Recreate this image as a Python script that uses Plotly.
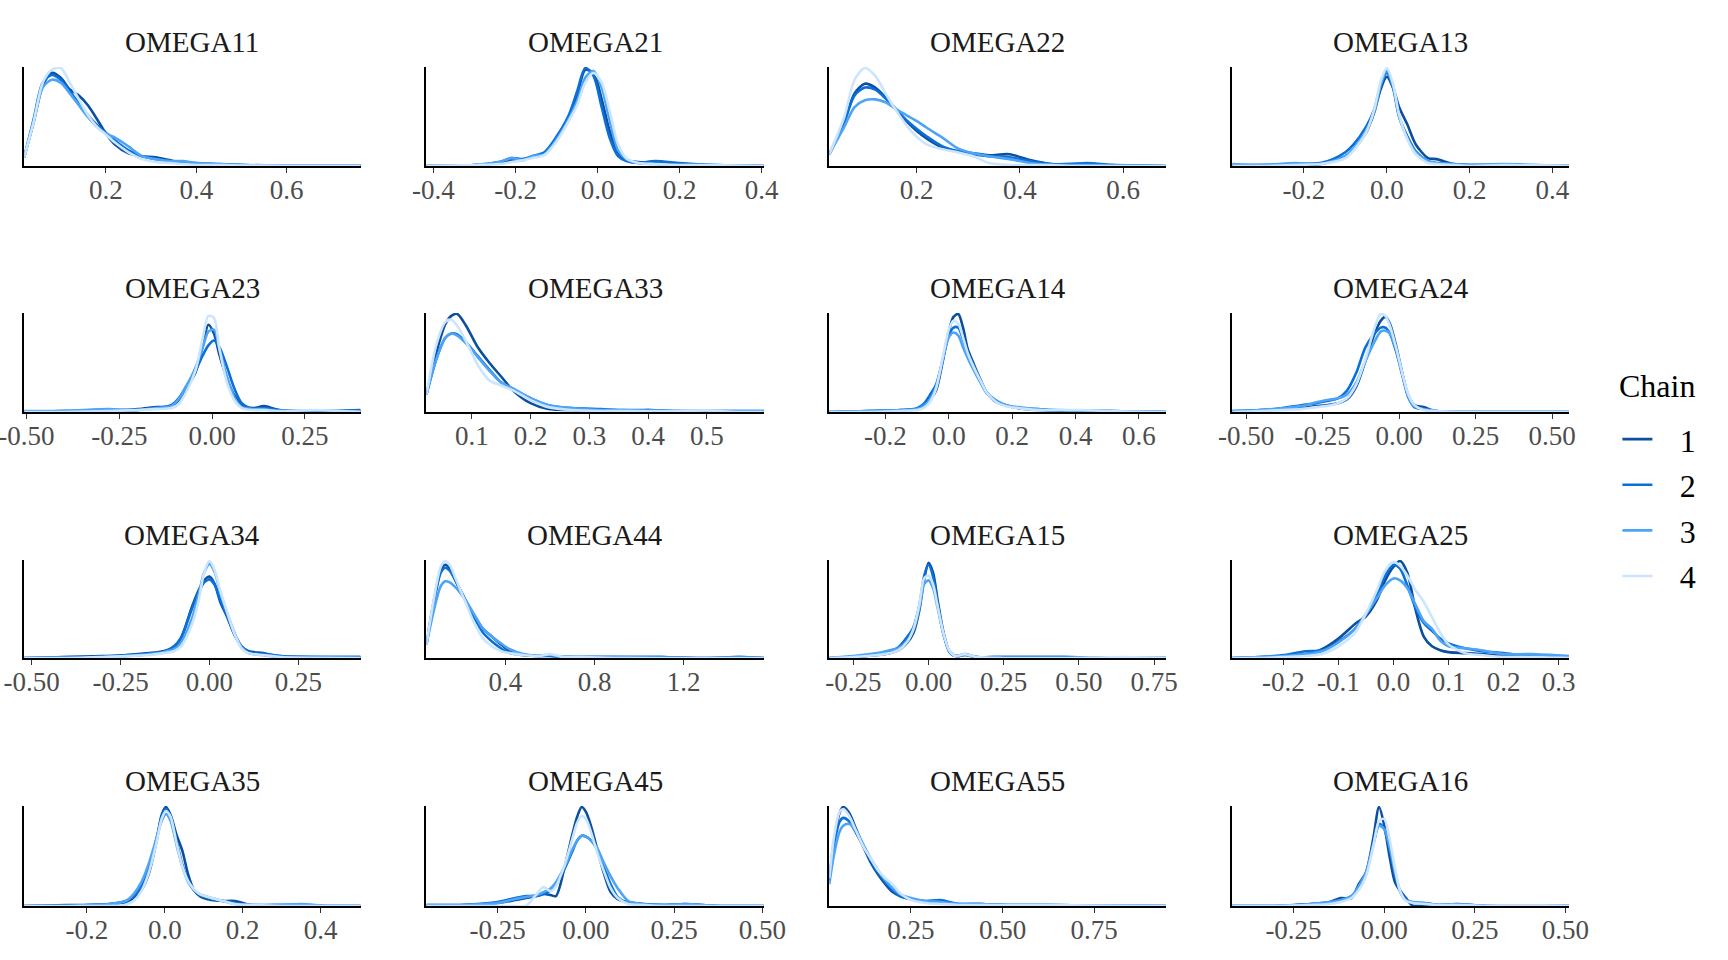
import plotly.graph_objects as go

chains = ["1", "2", "3", "4"]
chain_colors = ["#0b4f9e", "#0a6fd9", "#4da4f6", "#cce5ff"]

params = ["OMEGA11", "OMEGA21", "OMEGA22", "OMEGA13",
          "OMEGA23", "OMEGA33", "OMEGA14", "OMEGA24",
          "OMEGA34", "OMEGA44", "OMEGA15", "OMEGA25",
          "OMEGA35", "OMEGA45", "OMEGA55", "OMEGA16"]

# densities, scaled so the tallest curve of a panel = 1
omega11_x = [0.019, 0.04, 0.06, 0.08, 0.10, 0.12, 0.14, 0.16, 0.18, 0.20, 0.22, 0.25, 0.28, 0.31, 0.34, 0.37, 0.40, 0.45, 0.50, 0.60, 0.70, 0.764]
omega11_c1 = [0.09, 0.45, 0.82, 0.95, 0.90, 0.78, 0.72, 0.62, 0.48, 0.33, 0.22, 0.13, 0.10, 0.09, 0.06, 0.03, 0.02, 0.015, 0.01, 0.005, 0.004, 0.004]
omega11_c2 = [0.09, 0.48, 0.85, 0.93, 0.88, 0.76, 0.64, 0.52, 0.42, 0.34, 0.26, 0.16, 0.10, 0.07, 0.05, 0.04, 0.03, 0.02, 0.01, 0.005, 0.004, 0.004]
omega11_c3 = [0.09, 0.45, 0.80, 0.88, 0.85, 0.74, 0.62, 0.50, 0.40, 0.33, 0.29, 0.20, 0.10, 0.07, 0.05, 0.05, 0.03, 0.02, 0.01, 0.005, 0.005, 0.005]
omega11_c4 = [0.09, 0.45, 0.85, 0.98, 1.0, 0.85, 0.68, 0.52, 0.40, 0.32, 0.24, 0.14, 0.07, 0.04, 0.03, 0.02, 0.01, 0.01, 0.005, 0.003, 0.003, 0.003]

omega21_x = [-0.417, -0.30, -0.24, -0.21, -0.18, -0.16, -0.13, -0.10, -0.07, -0.05, -0.03, -0.01, 0.01, 0.03, 0.05, 0.07, 0.10, 0.14, 0.20, 0.28, 0.405]
omega21_c1 = [0.0, 0.01, 0.03, 0.06, 0.07, 0.09, 0.13, 0.28, 0.50, 0.72, 0.98, 0.95, 0.68, 0.35, 0.14, 0.06, 0.04, 0.03, 0.02, 0.01, 0.0]
omega21_c2 = [0.0, 0.01, 0.04, 0.08, 0.07, 0.10, 0.14, 0.30, 0.52, 0.76, 1.0, 0.92, 0.60, 0.28, 0.10, 0.05, 0.03, 0.05, 0.03, 0.01, 0.0]
omega21_c3 = [0.0, 0.01, 0.04, 0.08, 0.06, 0.10, 0.12, 0.27, 0.48, 0.66, 0.90, 0.97, 0.80, 0.45, 0.16, 0.07, 0.03, 0.02, 0.01, 0.01, 0.0]
omega21_c4 = [0.0, 0.01, 0.02, 0.04, 0.06, 0.08, 0.11, 0.25, 0.46, 0.62, 0.85, 0.95, 0.85, 0.55, 0.22, 0.08, 0.03, 0.02, 0.01, 0.01, 0.0]

omega22_x = [0.031, 0.06, 0.08, 0.10, 0.12, 0.14, 0.16, 0.18, 0.20, 0.22, 0.25, 0.28, 0.31, 0.34, 0.38, 0.42, 0.46, 0.50, 0.53, 0.58, 0.683]
omega22_c1 = [0.12, 0.45, 0.74, 0.84, 0.80, 0.70, 0.58, 0.46, 0.36, 0.28, 0.19, 0.15, 0.13, 0.11, 0.12, 0.06, 0.02, 0.02, 0.02, 0.01, 0.0]
omega22_c2 = [0.12, 0.45, 0.72, 0.80, 0.78, 0.69, 0.58, 0.47, 0.38, 0.30, 0.20, 0.15, 0.12, 0.10, 0.09, 0.05, 0.02, 0.02, 0.03, 0.01, 0.0]
omega22_c3 = [0.12, 0.40, 0.60, 0.67, 0.68, 0.65, 0.58, 0.52, 0.46, 0.39, 0.29, 0.18, 0.13, 0.10, 0.07, 0.03, 0.01, 0.01, 0.01, 0.005, 0.0]
omega22_c4 = [0.12, 0.50, 0.88, 1.0, 0.92, 0.74, 0.57, 0.42, 0.30, 0.22, 0.17, 0.14, 0.10, 0.03, 0.01, 0.01, 0.01, 0.0, 0.0, 0.0, 0.0]

omega13_x = [-0.373, -0.30, -0.22, -0.16, -0.13, -0.10, -0.08, -0.05, -0.03, -0.015, 0.0, 0.015, 0.03, 0.05, 0.07, 0.10, 0.12, 0.16, 0.20, 0.28, 0.44]
omega13_c1 = [0.0, 0.01, 0.01, 0.02, 0.05, 0.10, 0.17, 0.34, 0.55, 0.78, 0.91, 0.80, 0.60, 0.42, 0.22, 0.08, 0.07, 0.02, 0.01, 0.01, 0.0]
omega13_c2 = [0.01, 0.01, 0.02, 0.03, 0.07, 0.14, 0.22, 0.40, 0.58, 0.82, 0.95, 0.80, 0.50, 0.30, 0.15, 0.05, 0.03, 0.02, 0.01, 0.01, 0.0]
omega13_c3 = [0.02, 0.01, 0.03, 0.02, 0.05, 0.10, 0.18, 0.36, 0.56, 0.82, 0.97, 0.82, 0.50, 0.28, 0.14, 0.05, 0.03, 0.02, 0.01, 0.02, 0.0]
omega13_c4 = [0.0, 0.0, 0.01, 0.02, 0.04, 0.08, 0.16, 0.34, 0.58, 0.86, 1.0, 0.84, 0.52, 0.27, 0.12, 0.03, 0.02, 0.01, 0.0, 0.01, 0.0]

omega23_x = [-0.506, -0.40, -0.28, -0.20, -0.15, -0.11, -0.09, -0.07, -0.045, -0.025, -0.01, 0.005, 0.02, 0.04, 0.06, 0.08, 0.11, 0.14, 0.18, 0.28, 0.40]
omega23_c1 = [0.0, 0.01, 0.01, 0.03, 0.05, 0.06, 0.12, 0.24, 0.40, 0.68, 0.89, 0.80, 0.58, 0.34, 0.17, 0.07, 0.04, 0.06, 0.02, 0.01, 0.02]
omega23_c2 = [0.0, 0.01, 0.01, 0.02, 0.04, 0.07, 0.14, 0.26, 0.42, 0.58, 0.68, 0.73, 0.66, 0.46, 0.24, 0.09, 0.03, 0.04, 0.02, 0.01, 0.01]
omega23_c3 = [0.01, 0.01, 0.03, 0.02, 0.04, 0.06, 0.13, 0.26, 0.45, 0.66, 0.82, 0.84, 0.64, 0.36, 0.15, 0.05, 0.03, 0.03, 0.01, 0.01, 0.01]
omega23_c4 = [0.0, 0.0, 0.01, 0.02, 0.03, 0.04, 0.08, 0.20, 0.42, 0.76, 0.98, 0.96, 0.64, 0.30, 0.12, 0.04, 0.02, 0.02, 0.01, 0.02, 0.0]

omega33_x = [0.0226, 0.04, 0.055, 0.065, 0.075, 0.09, 0.11, 0.13, 0.15, 0.17, 0.20, 0.23, 0.27, 0.32, 0.36, 0.40, 0.45, 0.50, 0.55, 0.597]
omega33_c1 = [0.18, 0.62, 0.90, 0.98, 1.0, 0.88, 0.66, 0.50, 0.36, 0.22, 0.09, 0.03, 0.02, 0.02, 0.01, 0.02, 0.01, 0.0, 0.0, 0.0]
omega33_c2 = [0.18, 0.55, 0.76, 0.80, 0.79, 0.71, 0.57, 0.43, 0.30, 0.23, 0.14, 0.07, 0.04, 0.03, 0.02, 0.02, 0.01, 0.01, 0.01, 0.01]
omega33_c3 = [0.18, 0.55, 0.76, 0.80, 0.78, 0.70, 0.56, 0.42, 0.30, 0.24, 0.14, 0.07, 0.04, 0.02, 0.02, 0.01, 0.01, 0.01, 0.01, 0.01]
omega33_c4 = [0.18, 0.70, 0.92, 0.94, 0.88, 0.72, 0.48, 0.32, 0.27, 0.22, 0.12, 0.05, 0.02, 0.01, 0.01, 0.01, 0.01, 0.015, 0.0, 0.0]

omega14_x = [-0.377, -0.25, -0.15, -0.10, -0.08, -0.06, -0.04, -0.02, 0.0, 0.015, 0.03, 0.045, 0.06, 0.08, 0.10, 0.12, 0.15, 0.18, 0.22, 0.28, 0.35, 0.42, 0.50, 0.685]
omega14_c1 = [0.0, 0.01, 0.02, 0.03, 0.06, 0.12, 0.22, 0.50, 0.82, 0.97, 1.0, 0.86, 0.64, 0.48, 0.33, 0.20, 0.11, 0.07, 0.04, 0.03, 0.01, 0.01, 0.01, 0.0]
omega14_c2 = [0.0, 0.01, 0.02, 0.04, 0.08, 0.17, 0.28, 0.52, 0.78, 0.86, 0.86, 0.74, 0.60, 0.46, 0.32, 0.20, 0.10, 0.07, 0.04, 0.02, 0.01, 0.01, 0.01, 0.0]
omega14_c3 = [0.0, 0.01, 0.02, 0.03, 0.06, 0.12, 0.26, 0.52, 0.76, 0.81, 0.78, 0.66, 0.55, 0.42, 0.30, 0.19, 0.12, 0.07, 0.05, 0.03, 0.02, 0.01, 0.01, 0.0]
omega14_c4 = [0.0, 0.0, 0.01, 0.02, 0.04, 0.10, 0.24, 0.54, 0.84, 0.93, 0.90, 0.76, 0.60, 0.45, 0.32, 0.20, 0.10, 0.06, 0.04, 0.02, 0.02, 0.02, 0.01, 0.0]

omega24_x = [-0.545, -0.45, -0.38, -0.32, -0.27, -0.24, -0.20, -0.17, -0.14, -0.11, -0.08, -0.06, -0.045, -0.03, -0.01, 0.01, 0.03, 0.05, 0.08, 0.12, 0.20, 0.35, 0.555]
omega24_c1 = [0.0, 0.02, 0.03, 0.04, 0.06, 0.07, 0.09, 0.13, 0.26, 0.52, 0.80, 0.93, 0.97, 0.90, 0.68, 0.40, 0.17, 0.07, 0.05, 0.01, 0.0, 0.0, 0.0]
omega24_c2 = [0.01, 0.02, 0.04, 0.07, 0.09, 0.11, 0.14, 0.22, 0.40, 0.66, 0.80, 0.86, 0.86, 0.80, 0.62, 0.38, 0.15, 0.05, 0.03, 0.01, 0.0, 0.0, 0.0]
omega24_c3 = [0.01, 0.02, 0.04, 0.06, 0.10, 0.12, 0.14, 0.18, 0.30, 0.52, 0.72, 0.82, 0.83, 0.80, 0.64, 0.40, 0.16, 0.06, 0.03, 0.01, 0.0, 0.0, 0.0]
omega24_c4 = [0.0, 0.01, 0.02, 0.03, 0.05, 0.06, 0.09, 0.14, 0.28, 0.54, 0.86, 1.0, 0.98, 0.88, 0.66, 0.40, 0.18, 0.07, 0.02, 0.01, 0.0, 0.0, 0.0]

omega34_x = [-0.521, -0.40, -0.30, -0.23, -0.17, -0.13, -0.10, -0.08, -0.05, -0.03, -0.015, 0.0, 0.015, 0.03, 0.05, 0.07, 0.09, 0.11, 0.15, 0.20, 0.30, 0.425]
omega34_c1 = [0.0, 0.01, 0.02, 0.03, 0.05, 0.07, 0.11, 0.20, 0.52, 0.70, 0.80, 0.84, 0.76, 0.58, 0.42, 0.24, 0.12, 0.07, 0.05, 0.02, 0.01, 0.01]
omega34_c2 = [0.0, 0.01, 0.01, 0.03, 0.04, 0.06, 0.12, 0.21, 0.50, 0.68, 0.78, 0.81, 0.75, 0.60, 0.43, 0.25, 0.12, 0.06, 0.04, 0.02, 0.01, 0.01]
omega34_c3 = [0.0, 0.0, 0.01, 0.02, 0.04, 0.06, 0.09, 0.16, 0.40, 0.66, 0.88, 0.97, 0.88, 0.68, 0.46, 0.26, 0.11, 0.05, 0.03, 0.01, 0.01, 0.0]
omega34_c4 = [0.0, 0.0, 0.01, 0.02, 0.03, 0.05, 0.07, 0.12, 0.34, 0.60, 0.88, 1.0, 0.90, 0.70, 0.47, 0.25, 0.10, 0.05, 0.03, 0.01, 0.0, 0.0]

omega44_x = [0.046, 0.08, 0.11, 0.13, 0.15, 0.18, 0.22, 0.26, 0.30, 0.34, 0.38, 0.42, 0.48, 0.55, 0.60, 0.66, 0.75, 0.90, 1.10, 1.30, 1.45, 1.559]
omega44_c1 = [0.14, 0.60, 0.90, 0.96, 0.92, 0.78, 0.60, 0.42, 0.30, 0.22, 0.14, 0.07, 0.03, 0.02, 0.02, 0.01, 0.01, 0.01, 0.01, 0.0, 0.01, 0.0]
omega44_c2 = [0.14, 0.58, 0.88, 0.93, 0.90, 0.78, 0.60, 0.42, 0.26, 0.17, 0.10, 0.05, 0.03, 0.02, 0.03, 0.01, 0.01, 0.01, 0.01, 0.0, 0.01, 0.0]
omega44_c3 = [0.14, 0.50, 0.74, 0.79, 0.78, 0.72, 0.60, 0.45, 0.30, 0.22, 0.15, 0.09, 0.04, 0.02, 0.03, 0.01, 0.01, 0.01, 0.0, 0.0, 0.0, 0.0]
omega44_c4 = [0.14, 0.62, 0.94, 1.0, 0.96, 0.80, 0.58, 0.36, 0.20, 0.12, 0.07, 0.05, 0.03, 0.02, 0.04, 0.01, 0.01, 0.0, 0.0, 0.0, 0.0, 0.0]

omega15_x = [-0.33, -0.25, -0.17, -0.13, -0.10, -0.07, -0.05, -0.03, -0.015, 0.0, 0.015, 0.03, 0.05, 0.07, 0.09, 0.12, 0.16, 0.25, 0.45, 0.65, 0.789]
omega15_c1 = [0.0, 0.01, 0.03, 0.05, 0.08, 0.16, 0.26, 0.50, 0.80, 0.98, 0.88, 0.60, 0.26, 0.06, 0.02, 0.03, 0.01, 0.01, 0.01, 0.0, 0.0]
omega15_c2 = [0.0, 0.01, 0.04, 0.07, 0.11, 0.22, 0.32, 0.55, 0.84, 0.96, 0.84, 0.56, 0.24, 0.06, 0.02, 0.04, 0.01, 0.01, 0.01, 0.0, 0.0]
omega15_c3 = [0.0, 0.02, 0.05, 0.08, 0.10, 0.18, 0.29, 0.52, 0.76, 0.80, 0.72, 0.52, 0.24, 0.07, 0.02, 0.03, 0.01, 0.0, 0.0, 0.0, 0.0]
omega15_c4 = [0.0, 0.01, 0.03, 0.05, 0.08, 0.17, 0.30, 0.56, 0.82, 0.85, 0.76, 0.54, 0.25, 0.07, 0.02, 0.04, 0.01, 0.0, 0.0, 0.01, 0.0]

omega25_x = [-0.293, -0.24, -0.20, -0.16, -0.13, -0.10, -0.07, -0.05, -0.03, -0.015, 0.0, 0.012, 0.025, 0.04, 0.055, 0.07, 0.085, 0.10, 0.13, 0.16, 0.20, 0.25, 0.319]
omega25_c1 = [0.0, 0.01, 0.02, 0.04, 0.09, 0.20, 0.35, 0.43, 0.60, 0.80, 0.94, 1.0, 0.88, 0.50, 0.22, 0.12, 0.08, 0.06, 0.05, 0.04, 0.02, 0.02, 0.01]
omega25_c2 = [0.0, 0.01, 0.03, 0.07, 0.08, 0.17, 0.30, 0.45, 0.65, 0.85, 0.96, 0.92, 0.75, 0.52, 0.36, 0.28, 0.20, 0.15, 0.10, 0.07, 0.05, 0.02, 0.01]
omega25_c3 = [0.0, 0.01, 0.02, 0.04, 0.07, 0.16, 0.30, 0.45, 0.62, 0.75, 0.82, 0.80, 0.72, 0.55, 0.38, 0.30, 0.18, 0.12, 0.10, 0.08, 0.04, 0.04, 0.02]
omega25_c4 = [0.0, 0.0, 0.01, 0.02, 0.04, 0.12, 0.26, 0.46, 0.70, 0.90, 0.99, 0.95, 0.85, 0.70, 0.58, 0.42, 0.26, 0.14, 0.05, 0.03, 0.01, 0.01, 0.0]

omega35_x = [-0.361, -0.25, -0.20, -0.14, -0.10, -0.08, -0.06, -0.04, -0.02, -0.008, 0.003, 0.015, 0.03, 0.045, 0.06, 0.075, 0.09, 0.12, 0.15, 0.18, 0.22, 0.30, 0.35, 0.42, 0.503]
omega35_c1 = [0.0, 0.01, 0.01, 0.02, 0.04, 0.08, 0.16, 0.34, 0.68, 0.92, 1.0, 0.92, 0.72, 0.56, 0.32, 0.16, 0.10, 0.06, 0.05, 0.05, 0.01, 0.01, 0.01, 0.0, 0.0]
omega35_c2 = [0.0, 0.0, 0.01, 0.02, 0.05, 0.10, 0.20, 0.40, 0.70, 0.90, 0.98, 0.90, 0.66, 0.42, 0.26, 0.16, 0.11, 0.07, 0.05, 0.03, 0.01, 0.01, 0.01, 0.0, 0.0]
omega35_c3 = [0.0, 0.0, 0.01, 0.02, 0.05, 0.12, 0.24, 0.44, 0.70, 0.86, 0.93, 0.86, 0.62, 0.40, 0.24, 0.16, 0.12, 0.08, 0.05, 0.02, 0.01, 0.01, 0.02, 0.0, 0.0]
omega35_c4 = [0.0, 0.0, 0.0, 0.0, 0.01, 0.05, 0.15, 0.35, 0.66, 0.88, 0.96, 0.90, 0.64, 0.40, 0.25, 0.17, 0.12, 0.08, 0.05, 0.02, 0.01, 0.0, 0.0, 0.0, 0.0]

omega45_x = [-0.452, -0.35, -0.25, -0.20, -0.17, -0.14, -0.12, -0.10, -0.085, -0.06, -0.04, -0.025, -0.012, 0.0, 0.015, 0.03, 0.05, 0.07, 0.09, 0.12, 0.16, 0.22, 0.28, 0.38, 0.504]
omega45_c1 = [0.01, 0.01, 0.03, 0.06, 0.08, 0.10, 0.12, 0.11, 0.10, 0.40, 0.70, 0.90, 1.0, 0.95, 0.80, 0.60, 0.34, 0.14, 0.07, 0.04, 0.02, 0.01, 0.02, 0.0, 0.0]
omega45_c2 = [0.0, 0.01, 0.04, 0.08, 0.10, 0.10, 0.12, 0.16, 0.22, 0.38, 0.54, 0.66, 0.71, 0.70, 0.66, 0.58, 0.40, 0.22, 0.09, 0.03, 0.02, 0.01, 0.01, 0.0, 0.0]
omega45_c3 = [0.01, 0.01, 0.03, 0.07, 0.09, 0.11, 0.14, 0.18, 0.24, 0.40, 0.56, 0.66, 0.71, 0.70, 0.66, 0.60, 0.44, 0.30, 0.18, 0.05, 0.02, 0.01, 0.02, 0.0, 0.0]
omega45_c4 = [0.0, 0.0, 0.0, 0.0, 0.0, 0.12, 0.19, 0.15, 0.20, 0.42, 0.66, 0.84, 0.91, 0.88, 0.74, 0.56, 0.36, 0.18, 0.08, 0.02, 0.01, 0.0, 0.0, 0.0, 0.0]

omega55_x = [0.027, 0.04, 0.055, 0.065, 0.08, 0.10, 0.12, 0.14, 0.16, 0.18, 0.20, 0.22, 0.25, 0.29, 0.33, 0.38, 0.44, 0.52, 0.62, 0.75, 0.946]
omega55_c1 = [0.26, 0.66, 0.94, 1.0, 0.95, 0.78, 0.60, 0.44, 0.32, 0.22, 0.14, 0.10, 0.07, 0.04, 0.04, 0.02, 0.02, 0.01, 0.01, 0.005, 0.0]
omega55_c2 = [0.26, 0.62, 0.85, 0.89, 0.86, 0.74, 0.60, 0.46, 0.34, 0.24, 0.16, 0.10, 0.07, 0.05, 0.06, 0.02, 0.02, 0.01, 0.01, 0.005, 0.0]
omega55_c3 = [0.22, 0.52, 0.75, 0.81, 0.83, 0.76, 0.62, 0.48, 0.36, 0.26, 0.18, 0.12, 0.08, 0.05, 0.04, 0.02, 0.02, 0.01, 0.01, 0.005, 0.0]
omega55_c4 = [0.28, 0.70, 0.95, 0.98, 0.92, 0.76, 0.60, 0.48, 0.36, 0.28, 0.22, 0.13, 0.06, 0.03, 0.02, 0.01, 0.01, 0.01, 0.01, 0.005, 0.0]

omega16_x = [-0.419, -0.30, -0.20, -0.15, -0.12, -0.09, -0.07, -0.05, -0.03, -0.014, 0.0, 0.015, 0.03, 0.045, 0.06, 0.08, 0.11, 0.15, 0.20, 0.28, 0.51]
omega16_c1 = [0.0, 0.0, 0.02, 0.04, 0.08, 0.08, 0.22, 0.34, 0.68, 1.0, 0.82, 0.50, 0.24, 0.15, 0.08, 0.0, 0.01, 0.01, 0.01, 0.0, 0.0]
omega16_c2 = [0.0, 0.0, 0.02, 0.03, 0.05, 0.10, 0.18, 0.32, 0.62, 0.83, 0.78, 0.58, 0.32, 0.14, 0.06, 0.03, 0.03, 0.01, 0.02, 0.0, 0.0]
omega16_c3 = [0.0, 0.0, 0.02, 0.04, 0.06, 0.10, 0.20, 0.34, 0.62, 0.81, 0.78, 0.60, 0.34, 0.14, 0.06, 0.04, 0.03, 0.01, 0.02, 0.0, 0.0]
omega16_c4 = [0.0, 0.0, 0.01, 0.02, 0.04, 0.08, 0.16, 0.30, 0.60, 0.86, 0.88, 0.68, 0.38, 0.14, 0.05, 0.03, 0.02, 0.01, 0.01, 0.0, 0.0]

# x tick labels of each panel
omega11_ticks = [0.2, 0.4, 0.6]
omega21_ticks = [-0.4, -0.2, 0.0, 0.2, 0.4]
omega22_ticks = [0.2, 0.4, 0.6]
omega13_ticks = [-0.2, 0.0, 0.2, 0.4]
omega23_ticks = [-0.5, -0.25, 0.0, 0.25]
omega33_ticks = [0.1, 0.2, 0.3, 0.4, 0.5]
omega14_ticks = [-0.2, 0.0, 0.2, 0.4, 0.6]
omega24_ticks = [-0.5, -0.25, 0.0, 0.25, 0.5]
omega34_ticks = [-0.5, -0.25, 0.0, 0.25]
omega44_ticks = [0.4, 0.8, 1.2]
omega15_ticks = [-0.25, 0.0, 0.25, 0.5, 0.75]
omega25_ticks = [-0.2, -0.1, 0.0, 0.1, 0.2, 0.3]
omega35_ticks = [-0.2, 0.0, 0.2, 0.4]
omega45_ticks = [-0.25, 0.0, 0.25, 0.5]
omega55_ticks = [0.25, 0.5, 0.75]
omega16_ticks = [-0.25, 0.0, 0.25, 0.5]

panels = {
    "OMEGA11": (omega11_x, [omega11_c1, omega11_c2, omega11_c3, omega11_c4], omega11_ticks),
    "OMEGA21": (omega21_x, [omega21_c1, omega21_c2, omega21_c3, omega21_c4], omega21_ticks),
    "OMEGA22": (omega22_x, [omega22_c1, omega22_c2, omega22_c3, omega22_c4], omega22_ticks),
    "OMEGA13": (omega13_x, [omega13_c1, omega13_c2, omega13_c3, omega13_c4], omega13_ticks),
    "OMEGA23": (omega23_x, [omega23_c1, omega23_c2, omega23_c3, omega23_c4], omega23_ticks),
    "OMEGA33": (omega33_x, [omega33_c1, omega33_c2, omega33_c3, omega33_c4], omega33_ticks),
    "OMEGA14": (omega14_x, [omega14_c1, omega14_c2, omega14_c3, omega14_c4], omega14_ticks),
    "OMEGA24": (omega24_x, [omega24_c1, omega24_c2, omega24_c3, omega24_c4], omega24_ticks),
    "OMEGA34": (omega34_x, [omega34_c1, omega34_c2, omega34_c3, omega34_c4], omega34_ticks),
    "OMEGA44": (omega44_x, [omega44_c1, omega44_c2, omega44_c3, omega44_c4], omega44_ticks),
    "OMEGA15": (omega15_x, [omega15_c1, omega15_c2, omega15_c3, omega15_c4], omega15_ticks),
    "OMEGA25": (omega25_x, [omega25_c1, omega25_c2, omega25_c3, omega25_c4], omega25_ticks),
    "OMEGA35": (omega35_x, [omega35_c1, omega35_c2, omega35_c3, omega35_c4], omega35_ticks),
    "OMEGA45": (omega45_x, [omega45_c1, omega45_c2, omega45_c3, omega45_c4], omega45_ticks),
    "OMEGA55": (omega55_x, [omega55_c1, omega55_c2, omega55_c3, omega55_c4], omega55_ticks),
    "OMEGA16": (omega16_x, [omega16_c1, omega16_c2, omega16_c3, omega16_c4], omega16_ticks),
}

col_domains = [[0.0140, 0.2087], [0.2468, 0.4420], [0.4799, 0.6747], [0.7131, 0.9080]]
row_domains = [[0.8271, 0.9302], [0.5708, 0.6740], [0.3146, 0.4167], [0.0563, 0.1604]]

FONT = "Liberation Serif"

fig = go.Figure()
layout = {}
annotations = []

for k, name in enumerate(params):
    xs, ys, ticks = panels[name]
    n = k + 1
    r, c = divmod(k, 4)
    sfx = "" if n == 1 else str(n)

    for i, chain in enumerate(chains):
        fig.add_trace(go.Scatter(
            x=xs, y=ys[i], mode="lines", name="\u00a0\u00a0\u2009" + chain,
            line=dict(color=chain_colors[i], width=2.6, shape="spline", smoothing=0.8),
            legendgroup=chain, showlegend=(k == 0), hoverinfo="skip",
            xaxis="x" + sfx, yaxis="y" + sfx,
        ))

    two_dec = any(abs(t * 10 - round(t * 10)) > 1e-9 for t in ticks)
    labels = [f"{t:.2f}" if two_dec else f"{t:.1f}" for t in ticks]

    layout["xaxis" + sfx] = dict(
        domain=col_domains[c], anchor="y" + sfx, range=[xs[0], xs[-1]],
        tickvals=ticks, ticktext=labels, ticks="outside", ticklen=5,
        tickwidth=1.2, tickcolor="#333333", showline=True, linecolor="black",
        linewidth=2.4, showgrid=False, zeroline=False, automargin=False,
        ticklabelstandoff=-7, ticklabeloverflow="allow",
        tickfont=dict(family=FONT, size=27, color="#4d4d4d"),
    )
    layout["yaxis" + sfx] = dict(
        domain=row_domains[r], anchor="x" + sfx, range=[0, 1.01],
        showline=True, linecolor="black", linewidth=2.4, showgrid=False,
        zeroline=False, showticklabels=False, ticks="", automargin=False,
    )
    annotations.append(dict(
        text=name, x=sum(col_domains[c]) / 2, y=row_domains[r][1],
        xref="paper", yref="paper", xanchor="center", yanchor="bottom",
        yshift=7, showarrow=False, font=dict(family=FONT, size=29, color="#1a1a1a"),
    ))

# legend title
annotations.append(dict(
    text="Chain", x=0.9358, y=0.598, xref="paper", yref="paper",
    xanchor="left", yanchor="middle", showarrow=False,
    font=dict(family=FONT, size=32, color="black"),
))

fig.update_layout(
    **layout,
    annotations=annotations,
    width=1728, height=960,
    margin=dict(l=0, r=0, t=0, b=0, autoexpand=False),
    plot_bgcolor="white", paper_bgcolor="white",
    font=dict(family=FONT, color="black"),
    legend=dict(
        x=0.936, xanchor="left", y=0.571, yanchor="top",
        font=dict(family=FONT, size=32), tracegroupgap=1,
        bgcolor="rgba(0,0,0,0)",
    ),
)

fig.write_html("out.html", config={"displayModeBar": False},
               post_script="document.body.style.margin='0';")
